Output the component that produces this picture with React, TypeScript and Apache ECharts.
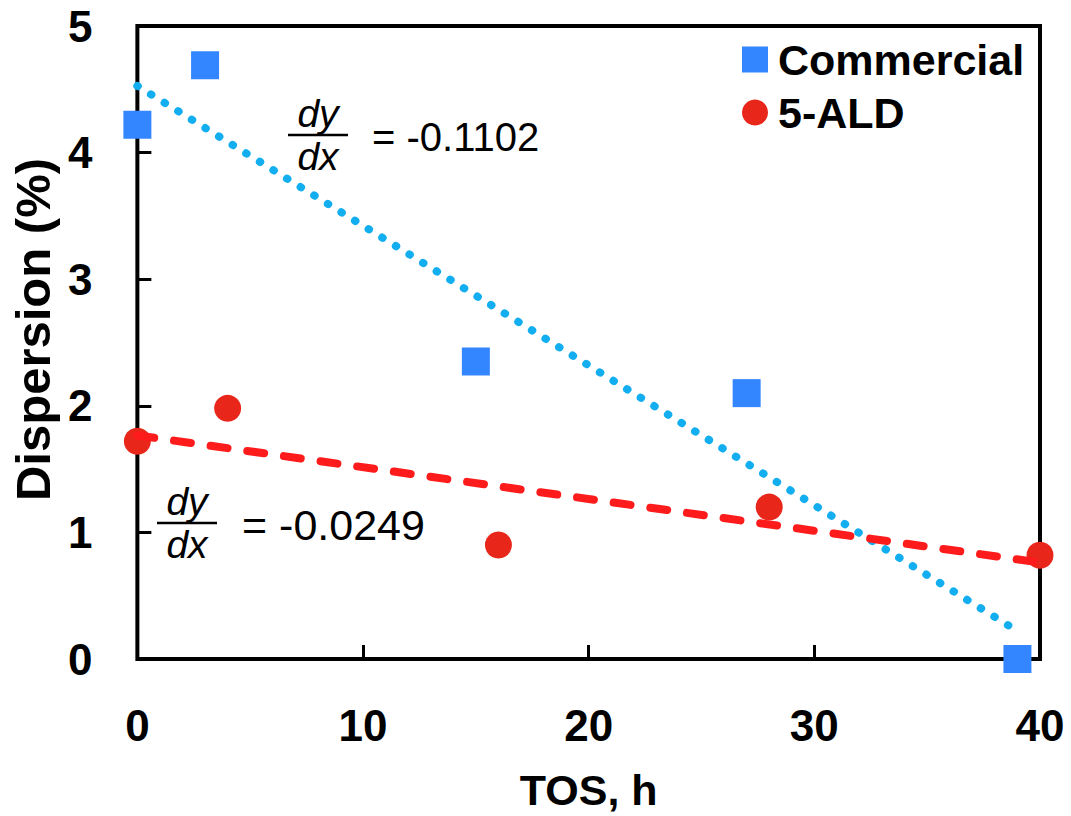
import React, { useEffect, useRef } from "react";
import * as echarts from "echarts";

const commercialX = [0, 3, 15, 27, 39];
const commercialY = [4.22, 4.69, 2.35, 2.1, 0];
const aldX = [0, 4, 16, 28, 40];
const aldY = [1.72, 1.98, 0.9, 1.2, 0.82];
const xTicks = { min: 0, max: 40, interval: 10 };
const yTicks = { min: 0, max: 5, interval: 1 };
const seriesNames = ["Commercial", "5-ALD"];
const slopeLabels = ["= -0.1102", "= -0.0249"];

function regress(xs: number[], ys: number[]) {
  const n = xs.length;
  const mx = xs.reduce((a, b) => a + b, 0) / n;
  const my = ys.reduce((a, b) => a + b, 0) / n;
  let sxy = 0, sxx = 0;
  for (let i = 0; i < n; i++) {
    sxy += (xs[i] - mx) * (ys[i] - my);
    sxx += (xs[i] - mx) ** 2;
  }
  const slope = sxy / sxx;
  const intercept = my - slope * mx;
  const x0 = Math.min(...xs), x1 = Math.max(...xs);
  return [[x0, intercept + slope * x0], [x1, intercept + slope * x1]];
}

const FONT = "Liberation Sans";

function fraction(cx: number, lineY: number, label: string, labelX: number, size: number) {
  return [
    { type: "text", x: cx, y: lineY - 22, style: { text: "dy", font: `italic 39px '${FONT}'`, fill: "#000", align: "center", verticalAlign: "middle" } },
    { type: "line", shape: { x1: cx - 30, y1: lineY, x2: cx + 30, y2: lineY }, style: { stroke: "#000", lineWidth: 2.5 } },
    { type: "text", x: cx, y: lineY + 21, style: { text: "dx", font: `italic 39px '${FONT}'`, fill: "#000", align: "center", verticalAlign: "middle" } },
    { type: "text", x: labelX, y: lineY + 2, style: { text: label, font: `${size}px '${FONT}'`, fill: "#000", align: "left", verticalAlign: "middle" } },
  ];
}

export default function App() {
  const ref = useRef<HTMLDivElement>(null);
  useEffect(() => {
    if (!ref.current) return;
    const chart = echarts.init(ref.current, undefined, { renderer: "svg" });
    const commercialPts = commercialX.map((x, i) => [x, commercialY[i]]);
    const aldPts = aldX.map((x, i) => [x, aldY[i]]);
    chart.setOption({
      animation: false,
      backgroundColor: "#fff",
      grid: { left: 129.5, right: 31, top: 26, bottom: 146, show: true, borderColor: "#000", borderWidth: 4, backgroundColor: "transparent" },
      xAxis: {
        type: "value", ...xTicks,
        name: "TOS, h", nameLocation: "middle", nameGap: 109,
        nameTextStyle: { fontFamily: FONT, fontWeight: "bold", fontSize: 43, color: "#000" },
        axisLine: { show: false },
        axisTick: { show: true, inside: true, length: 14, lineStyle: { color: "#000", width: 3 } },
        axisLabel: { margin: 44, fontFamily: FONT, fontWeight: "bold", fontSize: 44, color: "#000" },
        splitLine: { show: false },
      },
      yAxis: {
        type: "value", ...yTicks,
        name: "Dispersion (%)", nameLocation: "middle", nameGap: 74,
        nameTextStyle: { fontFamily: FONT, fontWeight: "bold", fontSize: 49, color: "#000", padding: [0, 0, 0, 26] },
        axisLine: { show: false },
        axisTick: { show: true, inside: true, length: 14, lineStyle: { color: "#000", width: 3 } },
        axisLabel: { margin: 45, fontFamily: FONT, fontWeight: "bold", fontSize: 44, color: "#000" },
        splitLine: { show: false },
      },
      legend: {
        data: seriesNames,
        orient: "vertical",
        left: 742, top: 38, padding: 0,
        itemWidth: 26, itemHeight: 26, itemGap: 10,
        textStyle: { fontFamily: FONT, fontWeight: "bold", fontSize: 43, color: "#000", padding: [0, 0, 0, 5] },
      },
      series: [
        { name: seriesNames[0], type: "scatter", data: commercialPts, symbol: "rect", symbolSize: 28, itemStyle: { color: "#3386FF", opacity: 1 }, clip: false },
        { name: seriesNames[1], type: "scatter", data: aldPts, symbol: "circle", symbolSize: 27, itemStyle: { color: "#E8261A", opacity: 1 }, clip: false },
        { name: "trendC", type: "line", data: regress(commercialX, commercialY), showSymbol: false, symbol: "none", clip: false,
          lineStyle: { color: "#12AEEF", width: 8, type: [0.5, 15.5], cap: "round" } },
        { name: "trendA", type: "line", data: regress(aldX, aldY), showSymbol: false, symbol: "none", clip: false,
          lineStyle: { color: "#FE1B1B", width: 8, type: [17, 20], cap: "round" } },
      ],
      graphic: [
        ...fraction(318, 135, slopeLabels[0], 372, 40),
        ...fraction(187, 523, slopeLabels[1], 242, 43),
      ],
    });
    return () => chart.dispose();
  }, []);
  return <div ref={ref} style={{ position: "fixed", left: 0, top: 0, width: 1071, height: 816 }} />;
}
